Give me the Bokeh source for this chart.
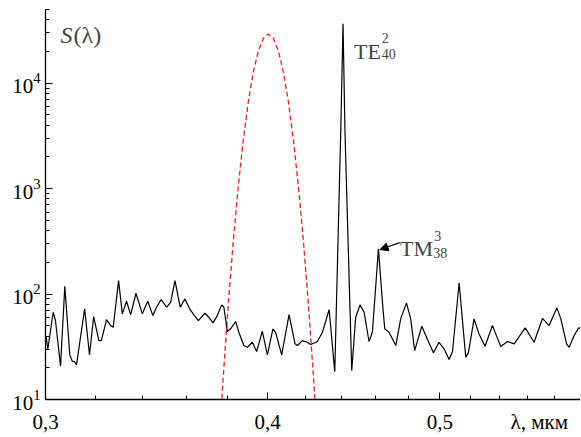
from bokeh.plotting import figure
from bokeh.models import (Range1d, FixedTicker, Label, Arrow, NormalHead, LogAxis,
                          CustomLabelingPolicy)
from bokeh.embed import file_html
from bokeh.resources import INLINE

# black spectrum S(lambda)
lam = [0.3003, 0.3009, 0.3030, 0.3039, 0.3059, 0.3076, 0.3096, 0.3106, 0.3115, 0.3123,
       0.3156, 0.3176, 0.3193, 0.3215, 0.3225, 0.3247, 0.3264, 0.3275, 0.3298, 0.3314,
       0.3332, 0.3350, 0.3373, 0.3401, 0.3425, 0.3448, 0.3464, 0.3485, 0.3510, 0.3528,
       0.3548, 0.3572, 0.3594, 0.3616, 0.3636, 0.3657, 0.3688, 0.3707, 0.3727, 0.3748,
       0.3769, 0.3780, 0.3797, 0.3813, 0.3838, 0.3854, 0.3879, 0.3897, 0.3922, 0.3944,
       0.3973, 0.3999, 0.4028, 0.4042, 0.4074, 0.4113, 0.4145, 0.4158, 0.4185, 0.4212,
       0.4230, 0.4254, 0.4267, 0.4295, 0.4332, 0.4364, 0.4398, 0.4411, 0.4422, 0.4461,
       0.4484, 0.4509, 0.4533, 0.4562, 0.4582, 0.4618, 0.4642, 0.4656, 0.4682, 0.4723,
       0.4753, 0.4789, 0.4815, 0.4840, 0.4885, 0.4910, 0.4959, 0.4995, 0.5028, 0.5061,
       0.5083, 0.5127, 0.5171, 0.5189, 0.5227, 0.5261, 0.5302, 0.5353, 0.5376, 0.5411,
       0.5459, 0.5506, 0.5585, 0.5650, 0.5712, 0.5761, 0.5819, 0.5849, 0.5893, 0.5912,
       0.5951, 0.5985, 0.6000]
S = [39.0, 29.8, 67.2, 56.1, 20.7, 118.6, 26.5, 23.1, 22.9, 21.3,
     72.4, 26.5, 61.2, 36.2, 36.2, 57.3, 50.3, 48.4, 134.3, 64.9,
     85.5, 63.9, 101.8, 64.9, 85.5, 62.5, 75.0, 88.7, 75.0, 83.6,
     134.3, 75.0, 90.0, 72.4, 63.5, 56.1, 65.8, 60.3, 53.3, 62.5,
     79.0, 75.0, 44.1, 46.8, 54.9, 43.4, 32.5, 31.3, 34.9, 28.5,
     44.4, 26.5, 46.8, 43.4, 26.5, 63.9, 33.7, 32.5, 36.2, 34.9,
     33.2, 34.5, 35.5, 43.4, 71.3, 18.4, 3546, 36600, 3546, 18.8,
     60.3, 79.0, 67.2, 35.5, 43.4, 268.2, 83.6, 46.8, 43.4, 32.5,
     58.2, 82.5, 58.2, 29.1, 49.5, 40.4, 27.7, 34.9, 30.2, 23.9,
     28.5, 127.7, 25.2, 27.7, 58.2, 41.9, 32.0, 50.3, 41.9, 31.8,
     35.5, 33.7, 47.8, 34.9, 58.9, 50.3, 74.0, 58.2, 33.7, 31.3,
     40.4, 47.8, 47.4]

# red dashed source spectrum
lam_src = [0.37626, 0.37773, 0.38018, 0.38266, 0.38514, 0.38765, 0.39017, 0.39270,
           0.39526, 0.39783, 0.40042, 0.40302, 0.40565, 0.40828, 0.41094, 0.41361,
           0.41630, 0.41901, 0.42173, 0.42447, 0.42613]
S_src = [6.03, 16.8, 80.5, 320.6, 1062, 2924, 6699, 12760, 20230, 26670, 29240,
         26670, 20230, 12760, 6699, 2924, 1062, 320.6, 80.5, 16.8, 6.03]

x_major = [0.3, 0.4, 0.5]
x_minor = [0.32, 0.34, 0.36, 0.38, 0.42, 0.44, 0.46, 0.48, 0.52, 0.54, 0.56, 0.58, 0.6]
x_labels = ["0,3", "0,4", "0,5"]
x_title = "λ,  мкм"
x_title_pos = 0.5707
y_major = [10, 100, 1000, 10000]
y_minor = [20, 30, 40, 50, 60, 70, 80, 90, 200, 300, 400, 500, 600, 700, 800, 900,
           2000, 3000, 4000, 5000, 6000, 7000, 8000, 9000, 20000, 30000, 40000, 50000]

FONT = "Liberation Serif"

p = figure(width=580, height=436, x_axis_type="log", y_axis_type="log",
           x_range=Range1d(0.3, 0.6), y_range=Range1d(10, 50000),
           output_backend="svg", toolbar_location=None,
           min_border_left=45, min_border_right=0, min_border_top=9, min_border_bottom=37)
p.outline_line_color = None
p.xgrid.visible = False
p.ygrid.visible = False
p.background_fill_color = "white"
p.border_fill_color = "white"

p.line(lam_src, S_src, color="#ff1a1a", line_dash="5 3", line_width=1.3)
p.line(lam, S, color="black", line_width=1.2)

for ax in (p.xaxis[0], p.yaxis[0]):
    ax.axis_line_width = 1.3
    ax.axis_line_color = "black"
    ax.major_tick_in = 7
    ax.major_tick_out = 0
    ax.minor_tick_in = 4
    ax.minor_tick_out = 0
    ax.major_tick_line_color = "black"
    ax.minor_tick_line_color = "black"
    ax.major_label_text_font = FONT
    ax.major_label_text_font_size = "21px"
    ax.major_label_text_color = "black"

# tick-mark axis (labels suppressed)
p.xaxis[0].ticker = FixedTicker(ticks=x_major, minor_ticks=x_minor)
p.xaxis[0].major_label_policy = CustomLabelingPolicy(code="")
p.xaxis[0].major_label_text_font_size = "0px"
p.xaxis[0].major_label_standoff = 0

# label axis (no line/ticks), includes the axis title as a label
lab_axis = LogAxis(ticker=FixedTicker(ticks=x_major + [x_title_pos], minor_ticks=[]),
                   major_label_overrides={**{v: t for v, t in zip(x_major, x_labels)},
                                          x_title_pos: x_title},
                   axis_line_color=None, major_tick_line_color=None,
                   minor_tick_line_color=None, major_tick_in=0, major_tick_out=0,
                   minor_tick_in=0, minor_tick_out=0,
                   major_label_text_font=FONT, major_label_text_font_size="21px",
                   major_label_text_color="black", major_label_standoff=10)
p.add_layout(lab_axis, "below")

p.yaxis[0].ticker = FixedTicker(ticks=y_major, minor_ticks=y_minor)
p.yaxis[0].major_label_standoff = 5

# annotations
p.add_layout(Label(x=0.3059, y=28820, text="S", text_font=FONT, text_font_style="italic",
                   text_font_size="24px", text_baseline="alphabetic", text_align="left"))
p.add_layout(Label(x=0.3111, y=28820, text="(λ)", text_font=FONT,
                   text_font_size="24px", text_baseline="alphabetic", text_align="left"))

p.add_layout(Label(x=0.44742, y=20013, text="TE", text_font=FONT,
                   text_font_size="22px", text_baseline="alphabetic", text_align="left"))
p.add_layout(Label(x=0.46378, y=26820, text="2", text_font=FONT,
                   text_font_size="14px", text_baseline="alphabetic", text_align="left"))
p.add_layout(Label(x=0.46378, y=19040, text="40", text_font=FONT,
                   text_font_size="14px", text_baseline="alphabetic", text_align="left"))

p.add_layout(Label(x=0.47491, y=268.2, text="TM", text_font=FONT,
                   text_font_size="22px", text_baseline="alphabetic", text_align="left"))
p.add_layout(Label(x=0.49644, y=358.5, text="3", text_font=FONT,
                   text_font_size="14px", text_baseline="alphabetic", text_align="left"))
p.add_layout(Label(x=0.4958, y=243.6, text="38", text_font=FONT,
                   text_font_size="14px", text_baseline="alphabetic", text_align="left"))
p.add_layout(Arrow(end=NormalHead(size=8, fill_color="black", line_color="black"),
                   x_start=0.47472, y_start=307.6, x_end=0.46276, y_end=264.1,
                   line_width=1.1, line_color="black"))

open("out.html", "w").write(file_html(p, INLINE))
